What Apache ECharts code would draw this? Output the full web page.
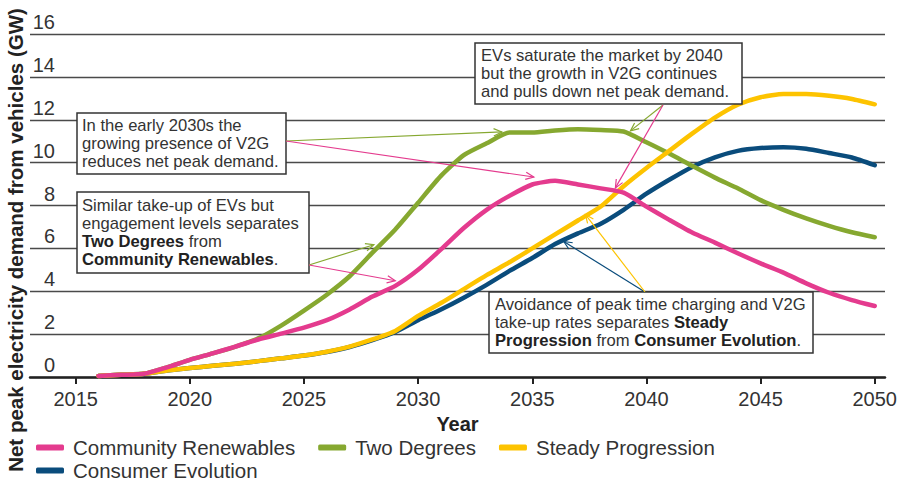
<!DOCTYPE html>
<html><head><meta charset="utf-8">
<script src="https://cdn.jsdelivr.net/npm/echarts@6/dist/echarts.min.js"></script>
<style>html,body{margin:0;padding:0;background:#fff}#c{width:902px;height:480px}</style>
</head><body><div id="c"></div>
<script>
const years = [2016,2017,2018,2019,2020,2021,2022,2023,2024,2025,2026,2027,2028,2029,2030,2031,2032,2033,2034,2035,2036,2037,2038,2039,2040,2041,2042,2043,2044,2045,2046,2047,2048,2049,2050];
const tickYears = [2015,2020,2025,2030,2035,2040,2045,2050];
const yTicks = [0,2,4,6,8,10,12,14,16];
const communityRenewables = [0.05,0.1,0.15,0.45,0.8,1.1,1.42,1.75,2.02,2.3,2.65,3.15,3.75,4.25,5.0,5.95,6.95,7.8,8.45,8.98,9.15,8.98,8.8,8.6,7.95,7.33,6.74,6.27,5.77,5.3,4.87,4.37,3.93,3.59,3.31];
const twoDegrees = [0.05,0.1,0.15,0.45,0.8,1.1,1.42,1.8,2.4,3.1,3.84,4.7,5.8,6.88,8.13,9.38,10.35,10.9,11.4,11.4,11.5,11.56,11.52,11.45,10.95,10.42,9.85,9.3,8.8,8.25,7.8,7.4,7.05,6.75,6.52];
const steadyProgression = [0.05,0.1,0.15,0.3,0.42,0.52,0.62,0.74,0.87,1.0,1.18,1.42,1.75,2.15,2.85,3.45,4.1,4.75,5.35,6.0,6.65,7.3,7.95,8.9,9.75,10.55,11.35,12.1,12.7,13.05,13.2,13.2,13.12,12.97,12.72];
const consumerEvolution = [0.05,0.1,0.15,0.3,0.42,0.52,0.62,0.74,0.87,1.0,1.17,1.4,1.72,2.1,2.65,3.15,3.7,4.3,4.95,5.55,6.2,6.7,7.15,7.8,8.55,9.2,9.8,10.25,10.55,10.68,10.72,10.65,10.45,10.24,9.88];
const seriesNames = ['Community Renewables','Two Degrees','Steady Progression','Consumer Evolution'];
const COLORS = {cr:'#E43B8E', td:'#86A830', sp:'#FDC300', ce:'#0A4C7C'};

// annotation arrow targets (data coordinates)
const arrowTargets1 = [[2033.67,11.43,'td'],[2035.07,9.33,'cr']];
const arrowTargets2 = [[2028.06,6.17,'td'],[2029.0,4.49,'cr']];
const arrowTargets3 = [[2039.3,11.48,'td'],[2038.64,8.82,'cr']];
const arrowTargets4 = [[2036.38,6.32,'ce'],[2037.33,7.57,'sp']];

const FONT = '"Liberation Sans", Arial, sans-serif';
const chart = echarts.init(document.getElementById('c'), null, {renderer:'svg'});
function pairs(v){ return years.map((y,i)=>[y, v[i]]); }
function lineSeries(name, data, color){
  return {name, type:'line', data:pairs(data), showSymbol:false, symbol:'none', smooth:0.2,
    lineStyle:{color, width:4.5, cap:'round', join:'round'}, itemStyle:{color}};
}
const legendText = {fontSize:20.5, color:'#333', fontFamily:FONT, padding:[0,0,0,4]};
chart.setOption({
  animation:false,
  textStyle:{fontFamily:FONT},
  grid:{left:30, right:17, top:34, bottom:103},
  xAxis:{type:'value', min:2013, max:2050.45,
    axisLine:{lineStyle:{color:'#222', width:2.5}},
    axisTick:{customValues:tickYears, length:7, lineStyle:{color:'#222', width:2}},
    axisLabel:{customValues:tickYears, formatter:v=>String(v), fontSize:20, color:'#333', margin:12, fontFamily:FONT},
    splitLine:{show:false},
    name:'Year', nameLocation:'middle', nameGap:37,
    nameTextStyle:{fontSize:20, fontWeight:'bold', color:'#222', fontFamily:FONT}},
  yAxis:{type:'value', min:0, max:16, interval:2,
    axisLine:{show:false}, axisTick:{show:false},
    axisLabel:{margin:-25, verticalAlign:'bottom', fontSize:20, color:'#333', fontFamily:FONT, lineHeight:20, padding:[0,0,2,0]},
    splitLine:{lineStyle:{color:'#4a4a4a', width:1.3}}},
  legend:[
    {data:[seriesNames[0],seriesNames[1],seriesNames[2]], left:31, top:432, orient:'horizontal',
      itemWidth:28, itemHeight:6, itemGap:23, icon:'roundRect', textStyle:legendText},
    {data:[seriesNames[3]], left:31, top:455, orient:'horizontal',
      itemWidth:28, itemHeight:6, itemGap:23, icon:'roundRect', textStyle:legendText}
  ],
  series:[
    lineSeries(seriesNames[3], consumerEvolution, COLORS.ce),
    lineSeries(seriesNames[1], twoDegrees, COLORS.td),
    lineSeries(seriesNames[2], steadyProgression, COLORS.sp),
    lineSeries(seriesNames[0], communityRenewables, COLORS.cr)
  ]
});

function arrow(p0, p1, color){
  const ang = Math.atan2(p1[1]-p0[1], p1[0]-p0[0]);
  const L = 9, a = 0.42;
  const h1 = [p1[0]-L*Math.cos(ang-a), p1[1]-L*Math.sin(ang-a)];
  const h2 = [p1[0]-L*Math.cos(ang+a), p1[1]-L*Math.sin(ang+a)];
  return [
    {type:'line', z:120, shape:{x1:p0[0], y1:p0[1], x2:p1[0], y2:p1[1]}, style:{stroke:color, lineWidth:1.2}},
    {type:'polyline', z:120, shape:{points:[h1,p1,h2]}, style:{stroke:color, fill:null, lineWidth:1.2}}
  ];
}
function box(x, y, w, h, tx, ty, text){
  return [
    {type:'rect', z:110, shape:{x, y, width:w, height:h}, style:{fill:'#fff', stroke:'#333', lineWidth:1.5}},
    {type:'text', z:111, x:tx, y:ty, style:{text, fontSize:16.6, lineHeight:18, fill:'#333', fontFamily:FONT,
      rich:{b:{fontWeight:'bold', fontSize:16.6, lineHeight:18, fill:'#222', fontFamily:FONT}}}}
  ];
}
function arrowsFrom(start, targets){
  let out = [];
  targets.forEach(t=>{
    const p = chart.convertToPixel({gridIndex:0}, [t[0], t[1]]);
    out = out.concat(arrow(start, p, COLORS[t[2]]));
  });
  return out;
}
let g = [];
g = g.concat(box(77,113,209,61, 82,116, 'In the early 2030s the\ngrowing presence of V2G\nreduces net peak demand.'));
g = g.concat(box(77,192,232,81, 82,196, 'Similar take-up of EVs but\nengagement levels separates\n{b|Two Degrees} from\n{b|Community Renewables}.'));
g = g.concat(box(475,43,267,61, 481,46, 'EVs saturate the market by 2040\nbut the growth in V2G continues\nand pulls down net peak demand.'));
g = g.concat(box(489,292,324,61, 495,295, 'Avoidance of peak time charging and V2G\ntake-up rates separates {b|Steady}\n{b|Progression} from {b|Consumer Evolution}.'));
g = g.concat(arrowsFrom([286,141], arrowTargets1));
g = g.concat(arrowsFrom([309,265], arrowTargets2));
g = g.concat(arrowsFrom([663,105], arrowTargets3));
g = g.concat(arrowsFrom([645,292], arrowTargets4));
g.push({type:'text', z:50, x:15, y:240, rotation:Math.PI/2,
  style:{text:'Net peak electricity demand from vehicles (GW)', align:'center', verticalAlign:'middle',
    fontSize:20.5, fontWeight:'bold', fill:'#222', fontFamily:FONT}});
chart.setOption({graphic:g});
</script>
</body></html>
